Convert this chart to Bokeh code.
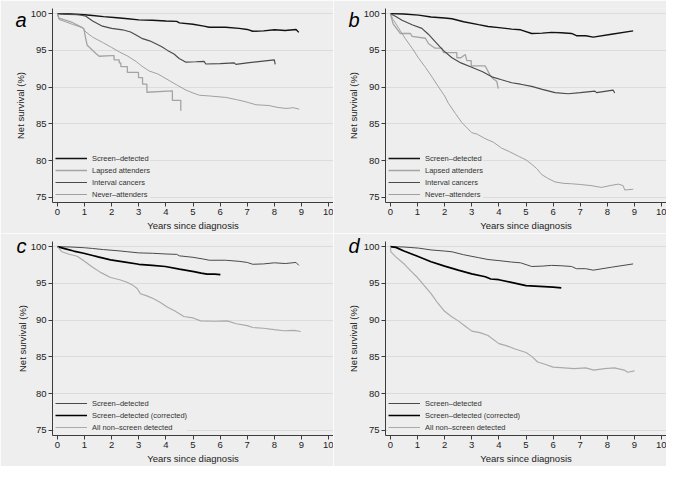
from bokeh.plotting import figure
from bokeh.models import Range1d, FixedTicker, Legend, LegendItem, LinearAxis
from bokeh.layouts import column, row
from bokeh.embed import file_html
from bokeh.resources import INLINE

# ---------------- data ----------------
x_ticks = [0, 1, 2, 3, 4, 5, 6, 7, 8, 9, 10]
y_ticks = [75, 80, 85, 90, 95, 100]
panel_letters = ["a", "b", "c", "d"]
x_label = "Years since diagnosis"
y_label = "Net survival (%)"

labels_ab = ["Screen–detected", "Lapsed attenders", "Interval cancers", "Never–attenders"]
labels_cd = ["Screen–detected", "Screen–detected (corrected)", "All non–screen detected"]

# panel a
a_screen_x = [0, 0.5, 1.0, 1.3, 1.7, 2.2, 2.6, 3.0, 3.5, 4.0, 4.4, 4.5, 5.0, 5.4, 5.6, 6.2, 6.7, 7.0, 7.2, 7.6, 8.0, 8.4, 8.8, 8.9]
a_screen_y = [100, 99.95, 99.85, 99.75, 99.6, 99.45, 99.3, 99.15, 99.1, 99.0, 98.95, 98.75, 98.55, 98.3, 98.15, 98.15, 98.0, 97.85, 97.6, 97.65, 97.8, 97.7, 97.85, 97.45]
a_lapsed_x = [0, 0.06, 0.55, 0.92, 0.98, 1.05, 1.1, 1.41, 1.54, 2.0, 2.09, 2.09, 2.28, 2.28, 2.34, 2.34, 2.58, 2.58, 2.99, 2.99, 3.14, 3.14, 3.3, 3.3, 4.24, 4.24, 4.55, 4.55]
a_lapsed_y = [100, 99.4, 98.8, 98.1, 97.9, 96.5, 95.7, 94.6, 94.2, 94.3, 94.3, 93.7, 93.7, 93.3, 93.3, 92.8, 92.8, 92.0, 92.0, 91.3, 91.3, 90.4, 90.4, 89.3, 89.5, 88.2, 88.2, 86.8]
a_interval_x = [0, 0.4, 0.8, 1.05, 1.3, 1.66, 2.0, 2.4, 2.7, 2.9, 3.14, 3.4, 3.63, 3.85, 4.06, 4.3, 4.49, 4.74, 5.1, 5.41, 5.47, 6.0, 6.52, 6.58, 7.0, 7.5, 8.0, 8.03]
a_interval_y = [100, 99.9, 99.85, 99.65, 99.0, 98.3, 98.0, 97.8, 97.5, 97.1, 96.6, 96.3, 95.9, 95.5, 95.0, 94.5, 93.9, 93.4, 93.45, 93.5, 93.15, 93.2, 93.3, 93.1, 93.3, 93.5, 93.7, 93.1]
a_never_x = [0, 0.06, 0.3, 0.55, 0.92, 1.05, 1.3, 1.66, 2.0, 2.28, 2.6, 2.9, 3.1, 3.38, 3.7, 4.12, 4.4, 4.74, 5.0, 5.23, 5.6, 6.21, 6.6, 6.95, 7.32, 7.8, 8.1, 8.43, 8.7, 8.92]
a_never_y = [100, 99.2, 98.9, 98.55, 98.1, 97.5, 96.8, 96.1, 95.4, 94.8, 94.2, 93.5, 92.9, 92.2, 91.8, 90.9, 90.3, 89.6, 89.2, 88.9, 88.8, 88.6, 88.3, 88.0, 87.6, 87.5, 87.25, 87.1, 87.2, 87.0]

# panel b
b_screen_x = [0, 0.5, 1.04, 1.5, 2.0, 2.27, 2.7, 3.25, 3.6, 4.0, 4.47, 4.8, 5.21, 5.6, 5.94, 6.3, 6.68, 6.86, 7.2, 7.48, 8.15, 8.95]
b_screen_y = [100, 99.95, 99.8, 99.55, 99.4, 99.3, 98.9, 98.5, 98.25, 98.1, 97.9, 97.8, 97.3, 97.35, 97.45, 97.4, 97.3, 97.0, 97.0, 96.8, 97.2, 97.65]
b_lapsed_x = [0, 0.1, 0.37, 0.74, 0.8, 1.29, 1.41, 1.65, 1.9, 1.96, 2.45, 2.45, 2.6, 2.76, 2.82, 2.98, 2.98, 3.49, 3.55, 3.68, 3.8, 3.92, 3.98]
b_lapsed_y = [100, 98.6, 97.3, 97.3, 96.9, 96.65, 95.9, 95.3, 95.3, 94.7, 94.7, 94.0, 94.0, 94.45, 93.6, 93.6, 92.9, 92.9, 92.5, 91.6, 91.1, 90.8, 89.8]
b_interval_x = [0, 0.2, 0.43, 0.8, 1.16, 1.4, 1.65, 1.95, 2.27, 2.6, 3.0, 3.4, 3.74, 4.1, 4.47, 4.8, 5.21, 5.6, 6.07, 6.56, 7.0, 7.54, 7.6, 8.21, 8.27]
b_interval_y = [100, 99.6, 99.1, 98.5, 98.0, 97.2, 96.2, 95.0, 94.0, 93.3, 92.7, 92.1, 91.4, 91.0, 90.6, 90.4, 90.1, 89.7, 89.25, 89.1, 89.25, 89.45, 89.25, 89.6, 89.2]
b_never_x = [0, 0.1, 0.31, 0.55, 0.8, 1.05, 1.29, 1.55, 1.78, 2.0, 2.14, 2.4, 2.63, 3.0, 3.2, 3.49, 3.8, 4.1, 4.4, 4.72, 5.0, 5.21, 5.4, 5.58, 5.8, 6.07, 6.4, 6.68, 7.0, 7.4, 7.78, 8.1, 8.4, 8.58, 8.64, 8.95]
b_never_y = [100, 99.2, 98.0, 96.6, 95.3, 93.9, 92.7, 91.3, 90.0, 88.8, 87.8, 86.4, 85.2, 83.8, 83.6, 83.0, 82.5, 81.7, 81.2, 80.6, 80.1, 79.5, 78.9, 78.1, 77.6, 77.1, 76.9, 76.85, 76.75, 76.6, 76.35, 76.6, 76.8, 76.6, 76.0, 76.1]

# panel c
c_screen_x = [0, 0.5, 1.0, 1.3, 1.7, 2.2, 2.6, 3.0, 3.5, 4.0, 4.4, 4.5, 5.0, 5.4, 5.6, 6.2, 6.7, 7.0, 7.2, 7.6, 8.0, 8.4, 8.8, 8.9]
c_screen_y = [100, 99.95, 99.85, 99.75, 99.6, 99.45, 99.3, 99.15, 99.1, 99.0, 98.95, 98.75, 98.55, 98.3, 98.15, 98.15, 98.0, 97.85, 97.6, 97.65, 97.8, 97.7, 97.85, 97.45]
c_corrected_x = [0, 0.3, 0.6, 0.97, 1.3, 1.5, 1.96, 2.5, 3.0, 3.5, 3.98, 4.5, 5.03, 5.3, 5.52, 5.8, 6.01]
c_corrected_y = [100, 99.7, 99.4, 99.1, 98.8, 98.6, 98.2, 97.9, 97.6, 97.45, 97.3, 96.95, 96.6, 96.4, 96.25, 96.25, 96.2]
c_nonscreen_x = [0, 0.17, 0.4, 0.73, 1.0, 1.3, 1.59, 1.96, 2.3, 2.57, 2.8, 2.94, 3.06, 3.3, 3.55, 3.8, 4.05, 4.35, 4.66, 5.0, 5.28, 5.8, 6.26, 6.6, 7.0, 7.2, 7.6, 8.0, 8.35, 8.72, 8.97]
c_nonscreen_y = [100, 99.3, 99.0, 98.7, 98.0, 97.2, 96.5, 95.8, 95.5, 95.15, 94.7, 94.3, 93.6, 93.3, 92.9, 92.4, 91.8, 91.2, 90.5, 90.3, 89.9, 89.85, 89.9, 89.5, 89.25, 89.0, 88.9, 88.7, 88.55, 88.6, 88.45]

# panel d
d_screen_x = [0, 0.5, 1.04, 1.5, 2.0, 2.27, 2.7, 3.25, 3.6, 4.0, 4.47, 4.8, 5.21, 5.6, 5.94, 6.3, 6.68, 6.86, 7.2, 7.48, 8.15, 8.95]
d_screen_y = [100, 99.95, 99.8, 99.55, 99.4, 99.3, 98.9, 98.5, 98.25, 98.1, 97.9, 97.8, 97.3, 97.35, 97.45, 97.4, 97.3, 97.0, 97.0, 96.8, 97.2, 97.65]
d_corrected_x = [0, 0.2, 0.5, 1.0, 1.5, 2.0, 2.5, 3.0, 3.5, 3.7, 4.0, 4.5, 5.0, 5.5, 6.0, 6.3]
d_corrected_y = [100, 99.9, 99.4, 98.7, 97.95, 97.35, 96.8, 96.3, 95.9, 95.6, 95.5, 95.1, 94.7, 94.6, 94.5, 94.4]
d_nonscreen_x = [0, 0.02, 0.2, 0.52, 0.75, 1.0, 1.25, 1.5, 1.75, 2.0, 2.25, 2.5, 2.75, 3.0, 3.3, 3.6, 4.0, 4.3, 4.57, 5.0, 5.2, 5.43, 5.7, 6.0, 6.4, 6.78, 7.2, 7.5, 7.9, 8.26, 8.62, 8.75, 9.0]
d_nonscreen_y = [100, 99.3, 98.6, 97.6, 96.7, 95.8, 94.7, 93.6, 92.3, 91.2, 90.5, 89.9, 89.2, 88.5, 88.3, 87.9, 86.8, 86.5, 86.1, 85.6, 85.1, 84.3, 84.0, 83.6, 83.5, 83.4, 83.5, 83.2, 83.4, 83.5, 83.2, 82.9, 83.1]

# ---------------- style ----------------
BG = "#eeeeee"
FONT = "Liberation Sans"
AXIS = "#3c3c3c"

style_ab = [dict(color="#111111", width=1.4),
            dict(color="#a4a4a4", width=1.3),
            dict(color="#4a4a4a", width=1.15),
            dict(color="#a0a0a0", width=1.0)]
style_cd = [dict(color="#4a4a4a", width=1.0),
            dict(color="#000000", width=1.7),
            dict(color="#aaaaaa", width=1.15)]


def make_panel(letter, letter_y, series, labels, styles):
    p = figure(width=333, height=233, output_backend="svg", toolbar_location=None,
               x_range=Range1d(-0.18, 10.18), y_range=Range1d(74.3, 100.7),
               min_border_left=52, min_border_right=0, min_border_top=8,
               min_border_bottom=30,
               background_fill_color=BG, border_fill_color=BG,
               outline_line_color=None)
    p.xgrid.visible = False
    p.ygrid.grid_line_color = "#dcdcdc"
    p.ygrid.grid_line_width = 1
    p.xaxis.ticker = FixedTicker(ticks=x_ticks)
    p.yaxis.ticker = FixedTicker(ticks=y_ticks)
    for ax in (p.xaxis[0], p.yaxis[0]):
        ax.axis_line_color = AXIS
        ax.major_tick_line_color = AXIS
        ax.minor_tick_line_color = None
        ax.major_tick_out = 4
        ax.major_tick_in = 0
        ax.major_label_text_font = FONT
        ax.major_label_text_font_size = "9.5px"
        ax.major_label_text_color = "#222222"
        ax.major_label_standoff = 2
        ax.axis_label_text_font = FONT
        ax.axis_label_text_font_size = "9.5px"
        ax.axis_label_text_font_style = "normal"
        ax.axis_label_text_color = "#222222"
        ax.axis_label_standoff = 2
    p.xaxis.axis_label = x_label

    # outer left axis: carries the panel letter (as its only tick label)
    # and the y-axis title
    outer = LinearAxis(ticker=FixedTicker(ticks=[letter_y]),
                       major_label_overrides={letter_y: letter},
                       axis_line_color=None, major_tick_line_color=None,
                       minor_tick_line_color=None, major_tick_out=0,
                       major_tick_in=0, major_label_standoff=1,
                       major_label_text_font=FONT,
                       major_label_text_font_size="20px",
                       major_label_text_font_style="italic",
                       major_label_text_color="#000000",
                       axis_label=y_label, axis_label_text_font=FONT,
                       axis_label_text_font_size="9.5px",
                       axis_label_text_font_style="normal",
                       axis_label_text_color="#222222",
                       axis_label_standoff=-14)
    p.add_layout(outer, "left")

    items = []
    for (xs, ys), lab, st in zip(series, labels, styles):
        r = p.line(xs, ys, line_color=st["color"], line_width=st["width"])
        items.append(LegendItem(label=lab, renderers=[r]))
    leg = Legend(items=items, location="bottom_left",
                 background_fill_color=BG, background_fill_alpha=1.0,
                 border_line_color=None,
                 label_text_font=FONT, label_text_font_size="7.5px",
                 label_text_color="#333333",
                 glyph_width=32, glyph_height=10, label_height=10,
                 label_standoff=5, spacing=2, padding=3, margin=3)
    p.add_layout(leg)
    return p


pa = make_panel(panel_letters[0], 99.1,
                [(a_screen_x, a_screen_y), (a_lapsed_x, a_lapsed_y),
                 (a_interval_x, a_interval_y), (a_never_x, a_never_y)],
                labels_ab, style_ab)
pb = make_panel(panel_letters[1], 99.1,
                [(b_screen_x, b_screen_y), (b_lapsed_x, b_lapsed_y),
                 (b_interval_x, b_interval_y), (b_never_x, b_never_y)],
                labels_ab, style_ab)
pc = make_panel(panel_letters[2], 100.05,
                [(c_screen_x, c_screen_y), (c_corrected_x, c_corrected_y),
                 (c_nonscreen_x, c_nonscreen_y)],
                labels_cd, style_cd)
pd_ = make_panel(panel_letters[3], 100.05,
                 [(d_screen_x, d_screen_y), (d_corrected_x, d_corrected_y),
                  (d_nonscreen_x, d_nonscreen_y)],
                 labels_cd, style_cd)

layout = column(row(pa, pb), row(pc, pd_))
open("out.html", "w").write(file_html(layout, INLINE))
